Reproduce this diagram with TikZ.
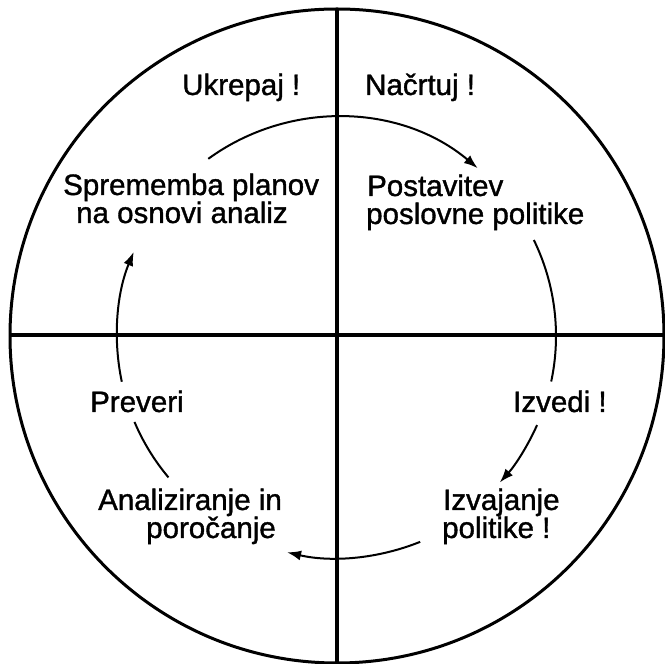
\documentclass[tikz,border=0pt]{standalone}
\usepackage{fontspec}
\setmainfont[FakeBold=1.2]{Liberation Sans}
\newfontfamily\lblfont[FakeBold=1.2]{Liberation Sans}
\usetikzlibrary{arrows.meta}
\tikzset{
  lbl/.style={inner sep=0pt, anchor=base west, font=\lblfont\fontsize{29.5}{30}\selectfont},
  cyc/.style={line width=2pt},
  cyca/.style={line width=2pt, -{Latex[length=14pt,width=10pt]}},
  axis/.style={line width=4.5pt},
}
\begin{document}
\begin{tikzpicture}[x=1pt,y=1pt]
\useasboundingbox (0,0) rectangle (665,664);
\coordinate (c) at (337,328);
% outer circle
\draw[line width=3pt] (c) circle[radius=327];
% axes
\coordinate (vt) at (337,655);
\coordinate (vb) at (337,0);
\coordinate (hl) at (9,329);
\coordinate (hr) at (665,329);
\draw[axis] (vt) -- (vb);
\draw[axis] (hl) -- (hr);
% labels
\node[lbl] (ukrepaj) at (182,569) {Ukrepaj !};
\node[lbl] (nacrtuj) at (365,569) {Načrtuj !};
\node[lbl] (spr1) at (63,469) {Sprememba planov};
\node[lbl] (spr2) at (76,441) {na osnovi analiz};
\node[lbl] (pos1) at (367,468) {Postavitev};
\node[lbl] (pos2) at (366,440) {poslovne politike};
\node[lbl] (preveri) at (90,252) {Preveri};
\node[lbl] (izvedi) at (513,252) {Izvedi !};
\node[lbl] (ana1) at (98,154) {Analiziranje in};
\node[lbl] (ana2) at (146,126) {poročanje};
\node[lbl] (izv1) at (443,154) {Izvajanje};
\node[lbl] (izv2) at (442,126) {politike !};
% cycle arcs
\draw[cyca] (c) ++(126:219) arc[start angle=126, end angle=50, radius=219];
\draw[cyc]  (c) ++(26:219) arc[start angle=26, end angle=-12, radius=219];
\draw[cyca] (c) ++(-24:219) arc[start angle=-24, end angle=-42, radius=219];
\draw[cyca] (c) ++(-68:222) arc[start angle=-68, end angle=-103, radius=222];
\draw[cyc]  (c) ++(220:220) arc[start angle=220, end angle=203, radius=220];
\draw[cyca] (c) ++(192:220) arc[start angle=192, end angle=157.5, radius=220];
\end{tikzpicture}
\end{document}
